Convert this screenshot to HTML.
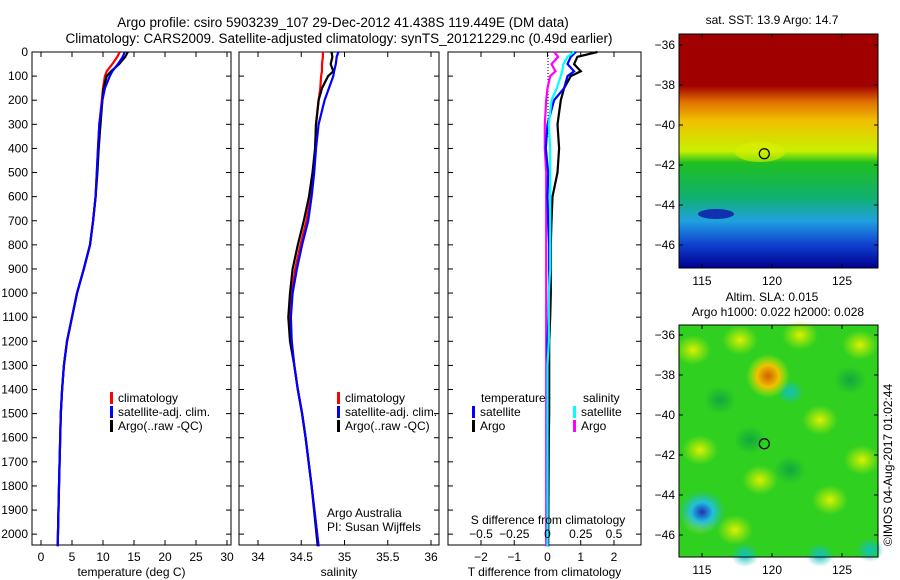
<!DOCTYPE html>
<html><head><meta charset="utf-8"><style>
body{margin:0;background:#fff;}
svg{display:block;font-family:"Liberation Sans",sans-serif;}
</style></head><body>
<svg id="c" width="900" height="580" viewBox="0 0 900 580" xmlns="http://www.w3.org/2000/svg">
<defs>
<linearGradient id="sstg" x1="0" y1="0" x2="0" y2="1">
<stop offset="0" stop-color="#a00000"/><stop offset="0.22" stop-color="#a00000"/>
<stop offset="0.29" stop-color="#e07000"/><stop offset="0.37" stop-color="#f0c000"/>
<stop offset="0.50" stop-color="#c8f000"/><stop offset="0.55" stop-color="#20c020"/>
<stop offset="0.70" stop-color="#10b070"/><stop offset="0.80" stop-color="#20a0e0"/>
<stop offset="0.90" stop-color="#1040d0"/><stop offset="1" stop-color="#000090"/>
</linearGradient>
<radialGradient id="orb"><stop offset="0" stop-color="#d06000"/><stop offset="0.5" stop-color="#f0c000"/><stop offset="1" stop-color="#c0f000" stop-opacity="0"/></radialGradient>
<radialGradient id="blb"><stop offset="0" stop-color="#2030b0"/><stop offset="0.45" stop-color="#20c0e0"/><stop offset="1" stop-color="#20c0a0" stop-opacity="0"/></radialGradient>
<radialGradient id="yel"><stop offset="0" stop-color="#e0f000"/><stop offset="1" stop-color="#c0f000" stop-opacity="0"/></radialGradient>
<radialGradient id="dgr"><stop offset="0" stop-color="#10a840"/><stop offset="1" stop-color="#10a840" stop-opacity="0"/></radialGradient>
<radialGradient id="cyn"><stop offset="0" stop-color="#10c0c0"/><stop offset="1" stop-color="#10c0c0" stop-opacity="0"/></radialGradient>
</defs>
<text x="343" y="27" font-size="13.5" text-anchor="middle">Argo profile: csiro 5903239_107 29-Dec-2012 41.438S 119.449E (DM data)</text>
<text x="339" y="43" font-size="13.5" text-anchor="middle">Climatology: CARS2009. Satellite-adjusted climatology: synTS_20121229.nc (0.49d earlier)</text>
<g id="g"></g>
</svg>
<script>
// depth levels (m)
const depths=[0,20,50,80,100,150,200,300,400,500,600,700,800,900,1000,1100,1200,1300,1400,1500,1600,1800,2050];
const tempClim=[12.7,12.3,11.5,10.6,10.3,10.0,9.8,9.4,9.2,9.0,8.8,8.4,7.9,6.9,5.8,5.0,4.2,3.7,3.4,3.2,3.1,2.9,2.7];
const tempSat =[13.5,13.2,12.4,11.5,11.1,10.3,9.9,9.4,9.2,9.0,8.8,8.4,7.9,6.9,5.8,5.0,4.2,3.7,3.4,3.2,3.1,2.9,2.7];
const tempArgo=[14.0,13.6,12.6,11.3,10.6,10.1,9.9,9.6,9.3,9.1,8.8,8.4,7.9,6.9,5.8,5.0,4.2,3.7,3.4,3.2,3.1,2.9,2.7];
const salClim=[34.75,34.75,34.74,34.74,34.73,34.72,34.70,34.67,34.66,34.64,34.61,34.56,34.49,34.43,34.39,34.37,34.39,34.42,34.46,34.51,34.55,34.62,34.70];
const salSat =[34.93,34.91,34.90,34.88,34.87,34.82,34.77,34.70,34.67,34.65,34.62,34.58,34.51,34.45,34.40,34.38,34.39,34.42,34.46,34.51,34.55,34.62,34.70];
const salArgo=[34.85,34.86,34.84,34.87,34.81,34.74,34.70,34.67,34.66,34.63,34.59,34.53,34.46,34.40,34.37,34.35,34.37,34.42,34.46,34.51,34.55,34.62,34.69];
const tDiffSat =[0.85,0.7,0.6,0.8,0.6,0.5,0.2,0.0,-0.05,0.02,0.0,0.02,0.05,0.05,0.05,0.03,0.0,0.0,0.0,0.0,0.0,0.0,0.0];
const tDiffArgo=[1.5,0.9,0.8,1.0,0.7,0.5,0.4,0.3,0.35,0.3,0.15,0.12,0.1,0.1,0.1,0.08,0.05,0.05,0.05,0.05,0.04,0.03,0.02];
const sDiffSat =[0.20,0.15,0.12,0.11,0.10,0.07,0.03,0.01,0.02,0.02,0.02,0.02,0.02,0.02,0.01,0.01,0.01,0.0,0.0,0.0,0.0,0.0,0.0];
const sDiffArgo=[0.05,0.08,0.03,0.06,0.02,0.0,-0.01,-0.02,-0.02,-0.01,-0.01,-0.01,-0.01,-0.01,-0.01,-0.01,-0.01,-0.01,-0.01,-0.01,-0.01,-0.01,-0.01];
const depthTicks=[0,100,200,300,400,500,600,700,800,900,1000,1100,1200,1300,1400,1500,1600,1700,1800,1900,2000];
const tempTicks=[0,5,10,15,20,25,30];
const salTicks=[34,34.5,35,35.5,36];
const tdTicks=[-2,-1,0,1,2];
const sdTicks=[-0.5,-0.25,0,0.25,0.5];
const lonTicks=[115,120,125];
const latTicks=[-36,-38,-40,-42,-44,-46];

const NS="http://www.w3.org/2000/svg";
const G=document.getElementById('g');
function el(t,a,p){const e=document.createElementNS(NS,t);for(const k in a)e.setAttribute(k,a[k]);(p||G).appendChild(e);return e;}
function txt(x,y,s,anchor,size,p){const e=el('text',{x:x,y:y,'font-size':size||12,'text-anchor':anchor||'middle'},p);e.textContent=s;return e;}
const Y0=52,Y1=545;
const yD=d=>Y0+(d/2045)*(Y1-Y0);
function lin(d0,d1,r0,r1){return v=>r0+(v-d0)/(d1-d0)*(r1-r0);}

function panel(name,x0,x1,xs,ticks,label,showY){
  const g=el('g',{});
  
  
  el('rect',{x:x0,y:Y0,width:x1-x0,height:Y1-Y0,fill:'none',stroke:'#000','stroke-width':1},g);
  ticks.forEach(t=>{const x=xs(t);el('line',{x1:x,x2:x,y1:Y1,y2:Y1-5,stroke:'#000'},g);el('line',{x1:x,x2:x,y1:Y0,y2:Y0+5,stroke:'#000'},g);
    const tl=txt(x,Y1+16,String(t).replace('-','\u2212'),'middle',12,g);});
  depthTicks.forEach(d=>{const y=yD(d);el('line',{x1:x0,x2:x0+5,y1:y,y2:y,stroke:'#000'},g);el('line',{x1:x1,x2:x1-5,y1:y,y2:y,stroke:'#000'},g);
    if(showY){const tl=txt(x0-4,y+4,d,'end',12,g);}});
  const l=txt((x0+x1)/2,Y1+31,label,'middle',12,g);
  
  
  return g;
}
function line(g,xs,vals,color,name,w){
  const pts=vals.map((v,i)=>xs(v).toFixed(1)+','+yD(depths[i]).toFixed(1)).join(' ');
  const p=el('polyline',{points:pts,fill:'none',stroke:color,'stroke-width':w||2.2},g);
  
  
}
function legend(g,x,y,items){
  items.forEach((it,i)=>{el('rect',{x:x,y:y+i*14-10,width:3,height:12,fill:it[0]},g);
    const t=txt(x+8,y+i*14,it[1],'start',12,g);});
}
// panel 1
const xT=lin(0,30,41,227);
const p1=panel('temperature-panel',32,231,xT,tempTicks,'temperature (deg C)',true);
line(p1,xT,tempClim,'#f00','temp-climatology-line');
line(p1,xT,tempArgo,'#000','temp-argo-line');
line(p1,xT,tempSat,'#00f','temp-satellite-line');
legend(p1,110,402,[['#f00','climatology'],['#00f','satellite-adj. clim.'],['#000','Argo(..raw -QC)']]);
// panel 2
const xS=lin(34,36,258,431);
const p2=panel('salinity-panel',239,439,xS,salTicks,'salinity',false);
line(p2,xS,salClim,'#f00','sal-climatology-line');
line(p2,xS,salArgo,'#000','sal-argo-line');
line(p2,xS,salSat,'#00f','sal-satellite-line');
legend(p2,337,402,[['#f00','climatology'],['#00f','satellite-adj. clim.'],['#000','Argo(..raw -QC)']]);
const a1=txt(327,517,'Argo Australia','start',12,p2);
const a2=txt(327,531,'PI: Susan Wijffels','start',12,p2);
// panel 3
const xTD=lin(-2,2,481,614);
const xSD=lin(-0.5,0.5,481,614);
const p3=panel('difference-panel',448,641,xTD,tdTicks,'T difference from climatology',false);
el('line',{x1:548,x2:548,y1:Y0,y2:yD(350),stroke:'#000','stroke-dasharray':'1,2'},p3);
line(p3,xSD,sDiffArgo,'#f0f','sdiff-argo-line');
line(p3,xTD,tDiffArgo,'#000','tdiff-argo-line');
line(p3,xTD,tDiffSat,'#00f','tdiff-satellite-line');
line(p3,xSD,sDiffSat,'#0ff','sdiff-satellite-line');
txt(481,402,'temperature','start',12,p3);
legend(p3,472,416,[['#00f','satellite'],['#000','Argo']]);
txt(583,402,'salinity','start',12,p3);
legend(p3,573,416,[['#0ff','satellite'],['#f0f','Argo']]);
const st=txt(548,524,'S difference from climatology','middle',12,p3);
sdTicks.forEach(t=>{txt(xSD(t),538,String(t).replace('-','\u2212'),'middle',12,p3);});

// maps
const lonX=lin(115,125,702,842);
function map(name,top,bot,lat36y){
  const g=el('g',{});
  
  
  const latY=v=>lat36y+(-36-v)*20;
  return {g,latY,top,bot};
}
function frame(m){
  const g=m.g;
  el('rect',{x:679,y:m.top,width:199,height:m.bot-m.top,fill:'none',stroke:'#000'},g);
  lonTicks.forEach(t=>{const x=lonX(t);el('line',{x1:x,x2:x,y1:m.bot,y2:m.bot-4,stroke:'#000'},g);el('line',{x1:x,x2:x,y1:m.top,y2:m.top+4,stroke:'#000'},g);txt(x,m.bot+17,t,'middle',12,g);});
  latTicks.forEach(t=>{const y=m.latY(t);el('line',{x1:679,x2:683,y1:y,y2:y,stroke:'#000'},g);el('line',{x1:878,x2:874,y1:y,y2:y,stroke:'#000'},g);txt(675,y+4,String(t).replace('-','\u2212'),'end',12,g);});
  const c=el('circle',{cx:lonX(119.449),cy:m.latY(-41.438),r:5,fill:'none',stroke:'#000','stroke-width':1.2},g);
  
  
}
const m1=map('sst-map',34,268,45);
el('rect',{x:679,y:34,width:199,height:234,fill:'url(#sstg)'},m1.g);
el('ellipse',{cx:716,cy:214,rx:18,ry:5,fill:'#1030b0'},m1.g);
el('ellipse',{cx:760,cy:152,rx:25,ry:10,fill:'#d8f000',opacity:0.6},m1.g);
frame(m1);
txt(772,24,'sat. SST: 13.9 Argo: 14.7','middle',12,m1.g);

const m2=map('sla-map',325,557,335);
el('rect',{x:679,y:325,width:199,height:232,fill:'#30d020'},m2.g);
[[693,350],[740,340],[800,335],[860,345],[700,450],[820,420],[862,460],[760,480],[830,500],[735,530],[700,520]].forEach(p=>el('ellipse',{cx:p[0],cy:p[1],rx:18,ry:15,fill:'url(#yel)'},m2.g));
[[720,400],[790,470],[750,440],[850,380]].forEach(p=>el('ellipse',{cx:p[0],cy:p[1],rx:16,ry:14,fill:'url(#dgr)'},m2.g));
[[790,392],[745,555],[820,555],[870,550]].forEach(p=>el('ellipse',{cx:p[0],cy:p[1],rx:14,ry:12,fill:'url(#cyn)'},m2.g));
el('ellipse',{cx:768,cy:376,rx:22,ry:22,fill:'url(#orb)'},m2.g);
el('ellipse',{cx:702,cy:512,rx:24,ry:22,fill:'url(#blb)'},m2.g);
frame(m2);
txt(772,301,'Altim. SLA: 0.015','middle',12,m2.g);
txt(778,316,'Argo h1000: 0.022 h2000: 0.028','middle',12,m2.g);
const cr=el('text',{x:0,y:0,'font-size':12,'text-anchor':'middle',transform:'translate(892,465) rotate(-90)'});
cr.textContent='\u00a9IMOS 04-Aug-2017 01:02:44';


</script>
</body></html>
